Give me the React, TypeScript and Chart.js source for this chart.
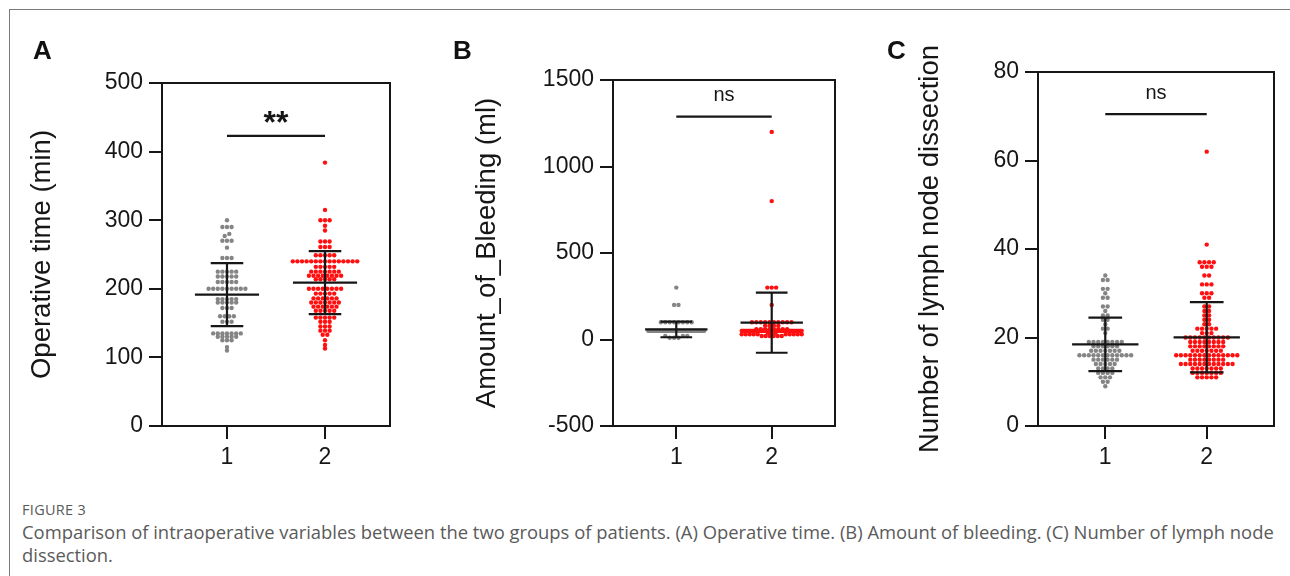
import React, { useEffect, useRef } from "react";
import { Chart, registerables } from "chart.js";

Chart.register(...registerables);

// ---------------- DATA ----------------
const groupLabels = ["1", "2"];

// Panel A – Operative time (min)
const operativeTimeGroup1 = [
  300, 290, 290, 290, 280, 277, 270, 270, 270, 260, 245, 245, 245,
  225, 225, 225, 225, 225, 218, 218, 218, 218, 218, 210, 210, 210, 210, 210,
  200, 200, 200, 200, 200, 200, 200, 200, 200,
  185, 185, 185, 185, 185, 180, 180, 180, 180, 180, 172, 172, 172,
  160, 160, 160, 160, 152, 152, 152,
  135, 135, 135, 135, 135, 135, 135, 130, 130, 130, 130, 130, 125, 125, 125,
  115, 110,
];
const operativeTimeGroup2 = [
  384, 315, 300, 300, 300, 292, 285, 269, 269, 269, 261, 261, 261,
  249, 249, 249, 249, 249,
  240, 240, 240, 240, 240, 240, 240, 240, 240, 240, 240, 240, 240, 240, 240,
  232, 232, 232, 232, 232, 225, 225, 225, 225, 225, 225, 225,
  219, 219, 219, 219, 219, 219, 219, 219, 214, 214, 214, 214, 214,
  200, 200, 200, 200, 200, 200, 200, 200, 193, 193, 193, 193, 193,
  186, 186, 186, 186, 186, 186, 180, 180, 180, 180, 180, 180, 180,
  174, 174, 174, 174, 174, 174, 168, 168, 168, 168, 168,
  158, 158, 158, 158, 158, 152, 152, 152, 145, 145, 145, 139, 139, 139,
  133, 133, 125, 118, 113,
];
const operativeTimeMean = [191.5, 209];
const operativeTimeSD = [46, 46];
const operativeTimeTicks = [0, 100, 200, 300, 400, 500];
const operativeTimeSig = 423;

// Panel B – Amount of bleeding (ml)
const bleedingGroup1 = [
  300, 200, 200, 100, 100, 100, 100, 100, 100, 100, 100,
  50, 50, 50, 50, 50, 50, 50, 50, 50, 50, 50, 50, 50, 50, 50, 50, 50, 50, 50, 50, 50, 50, 50, 50, 50,
  50, 50, 50, 50, 50, 50, 50, 50, 50, 50, 50, 50, 50, 50, 50, 50, 50, 50, 50, 50, 50, 50, 50, 50, 50,
  50, 50, 50, 50, 50, 50, 50,
  20, 20, 20, 10, 10, 10,
];
const bleedingGroup2 = [
  1200, 800, 300, 300, 300, 200,
  100, 100, 100, 100, 100, 100, 100, 100, 100, 100, 80, 80, 80, 80,
  60, 60, 60, 60, 60, 60, 60, 60,
  50, 50, 50, 50, 50, 50, 50, 50, 50, 50, 50, 50, 50, 50, 50, 50, 50, 50, 50, 50,
  50, 50, 50, 50, 50, 50, 50, 50, 50, 50, 50, 50, 50, 50, 50, 50, 50, 50, 50, 50,
  50, 50, 50, 50, 50, 50, 50, 50, 50, 50, 50, 50, 50, 50, 50, 50, 50, 50, 50, 50,
  40, 40, 40, 40, 40, 40, 40, 40, 40, 40, 30, 30, 30, 30, 30, 30, 30, 30, 30, 30,
  20, 20, 20, 20, 20, 20,
];
const bleedingMean = [58, 97.5];
const bleedingSD = [45, 174];
const bleedingTicks = [-500, 0, 500, 1000, 1500];
const bleedingSig = 1288;

// Panel C – Number of lymph node dissection
const lymphNodeGroup1 = [
  34, 33, 33, 31, 31, 30, 29, 29, 27, 27, 26, 25, 25, 24, 24, 23, 22, 22, 21,
  19, 19, 19, 19, 19, 19, 19, 19, 18, 18, 18, 18, 18, 18,
  17, 17, 17, 17, 17, 17, 17, 16, 16, 16, 16, 16, 16, 16, 16, 16, 16, 16, 16,
  15, 15, 15, 15, 15, 15, 14, 14, 14, 14, 14, 13, 13, 13, 13,
  12, 12, 12, 12, 11, 11, 11, 10, 10, 9,
];
const lymphNodeGroup2 = [
  62, 41, 37, 37, 37, 37, 36, 36, 36, 34, 34, 32, 32, 32, 30, 30, 30, 29, 29,
  27, 27, 26, 26, 25, 25, 24, 24, 23, 23, 22, 22, 22, 22, 22, 21, 21, 21,
  20, 20, 20, 20, 20, 20, 20, 20, 20, 20, 19, 19, 19, 19, 19, 19, 19, 19,
  18, 18, 18, 18, 18, 18, 18, 18, 17, 17, 17, 17, 17, 17, 17,
  16, 16, 16, 16, 16, 16, 16, 16, 16, 16, 16, 16, 16, 16,
  15, 15, 15, 15, 15, 15, 15, 15, 14, 14, 14, 14, 14, 14, 14, 14, 14, 14, 14, 14,
  13, 13, 13, 13, 13, 13, 13, 12, 12, 12, 12, 12, 12, 12, 11, 11, 11, 11, 11,
];
const lymphNodeMean = [18.45, 20.05];
const lymphNodeSD = [6.05, 7.95];
const lymphNodeTicks = [0, 20, 40, 60, 80];
const lymphNodeSig = 70.5;

// ---------------- STYLE / LAYOUT ----------------
const CHART_FONT = '"Liberation Sans", Arial, Helvetica, sans-serif';
const INK = "#161616";
const GROUP_COLORS = ["#858585", "#ff1010"];
const CANVAS_TOP = 20;
const CANVAS_H = 460;
const X_MIN = 0.337;
const X_MAX = 2.663;
const MEAN_HALF = 0.327;
const CAP_HALF = 0.166;

type Panel = {
  letter: string;
  letterPos: [number, number];
  title: string;
  g1: number[];
  g2: number[];
  mean: number[];
  sd: number[];
  ticks: number[];
  sig: number;
  sigLabel: string;
  sigFont: string;
  sigOffset: number;
  left: number;
  width: number;
  padTop: number;
  padRight: number;
  yWidth: number;
  titlePad: number;
  spacing: number;
  rowGap: number;
  maxRow: number[];
};

const PANELS: Panel[] = [
  {
    letter: "A", letterPos: [33, 37], title: "Operative time (min)",
    g1: operativeTimeGroup1, g2: operativeTimeGroup2, mean: operativeTimeMean, sd: operativeTimeSD,
    ticks: operativeTimeTicks, sig: operativeTimeSig, sigLabel: "**",
    sigFont: `bold 32px ${CHART_FONT}`, sigOffset: 3,
    left: 10, width: 400, padTop: 63, padRight: 20, yWidth: 152, titlePad: 16,
    spacing: 4.6, rowGap: 3, maxRow: [70, 70],
  },
  {
    letter: "B", letterPos: [453, 37], title: "Amount_of_Bleeding (ml)",
    g1: bleedingGroup1, g2: bleedingGroup2, mean: bleedingMean, sd: bleedingSD,
    ticks: bleedingTicks, sig: bleedingSig, sigLabel: "ns",
    sigFont: `20px ${CHART_FONT}`, sigOffset: 16,
    left: 430, width: 420, padTop: 60, padRight: 15, yWidth: 183, titlePad: 40.5,
    spacing: 4.4, rowGap: 3, maxRow: [56, 60],
  },
  {
    letter: "C", letterPos: [887, 37], title: "Number of lymph node dissection",
    g1: lymphNodeGroup1, g2: lymphNodeGroup2, mean: lymphNodeMean, sd: lymphNodeSD,
    ticks: lymphNodeTicks, sig: lymphNodeSig, sigLabel: "ns",
    sigFont: `20px ${CHART_FONT}`, sigOffset: 15.5,
    left: 860, width: 430, padTop: 52, padRight: 16, yWidth: 178, titlePad: 53.5,
    spacing: 4.7, rowGap: 3, maxRow: [70, 70],
  },
];

// Beeswarm-like row layout (pixel offsets) computed from values
function swarmOffsets(values: number[], toPx: (v: number) => number, spacing: number, rowGap: number, maxRow: number) {
  const order = values.map((_, i) => i).sort((a, b) => values[a] - values[b]);
  const offsets = new Array(values.length).fill(0);
  let row: number[] = [];
  let startPx = 0;
  const flush = () => {
    const n = row.length;
    if (!n) return;
    const s = n > 1 ? Math.min(spacing, maxRow / (n - 1)) : 0;
    const slots: number[] = [];
    for (let k = 0; k < n; k++) slots.push((k - (n - 1) / 2) * s);
    slots.sort((a, b) => Math.abs(a) - Math.abs(b) || a - b);
    row.forEach((id, k) => (offsets[id] = slots[k]));
    row = [];
  };
  for (const id of order) {
    const p = toPx(values[id]);
    if (row.length && Math.abs(startPx - p) >= rowGap) flush();
    if (!row.length) startPx = p;
    row.push(id);
  }
  flush();
  return offsets;
}

const annotatePlugin = {
  id: "annot",
  afterDatasetsDraw(chart: any, _args: any, opts: any) {
    const { ctx, chartArea: a } = chart;
    const xs = chart.scales.x;
    const ys = chart.scales.y;
    ctx.save();
    ctx.strokeStyle = INK;
    ctx.lineWidth = 2;
    ctx.strokeRect(a.left, a.top, a.right - a.left, a.bottom - a.top);
    ctx.font = opts.font;
    ctx.fillStyle = INK;
    ctx.textAlign = "center";
    ctx.textBaseline = "alphabetic";
    ctx.fillText(opts.label, xs.getPixelForValue(1.5), ys.getPixelForValue(opts.value) - opts.offset);
    ctx.restore();
  },
};

function lineDs(points: { x: number; y: number }[]) {
  return {
    type: "scatter" as const,
    data: points,
    showLine: true,
    borderColor: INK,
    borderWidth: 2.2,
    pointRadius: 0,
    order: 0,
  };
}

function buildConfig(p: Panel): any {
  const datasets: any[] = [];
  [p.g1, p.g2].forEach((vals, gi) => {
    datasets.push({
      type: "scatter",
      data: vals.map((v) => ({ x: gi + 1, y: v })),
      backgroundColor: GROUP_COLORS[gi],
      borderWidth: 0,
      pointRadius: 2.2,
      order: 1,
    });
  });
  p.mean.forEach((m, gi) => {
    const x = gi + 1;
    const s = p.sd[gi];
    datasets.push(lineDs([{ x: x - MEAN_HALF, y: m }, { x: x + MEAN_HALF, y: m }]));
    datasets.push(lineDs([{ x, y: m - s }, { x, y: m + s }]));
    datasets.push(lineDs([{ x: x - CAP_HALF, y: m + s }, { x: x + CAP_HALF, y: m + s }]));
    datasets.push(lineDs([{ x: x - CAP_HALF, y: m - s }, { x: x + CAP_HALF, y: m - s }]));
  });
  datasets.push(lineDs([{ x: 1, y: p.sig }, { x: 2, y: p.sig }]));

  const gridStyle = { drawOnChartArea: false, drawTicks: true, tickLength: 13, color: INK, lineWidth: 2 };
  return {
    type: "scatter",
    data: { datasets },
    plugins: [annotatePlugin],
    options: {
      animation: false,
      responsive: false,
      maintainAspectRatio: false,
      events: [],
      layout: { padding: { left: 0, top: p.padTop, right: p.padRight, bottom: 0 } },
      plugins: {
        legend: { display: false },
        tooltip: { enabled: false },
        annot: { label: p.sigLabel, value: p.sig, font: p.sigFont, offset: p.sigOffset },
      },
      scales: {
        x: {
          type: "linear",
          position: "bottom",
          min: X_MIN,
          max: X_MAX,
          afterBuildTicks: (s: any) => { s.ticks = groupLabels.map((_, i) => ({ value: i + 1 })); },
          afterFit: (s: any) => { s.height = 54; },
          grid: gridStyle,
          border: { display: false },
          ticks: {
            font: { family: CHART_FONT, size: 23 },
            color: INK,
            padding: 5,
            maxRotation: 0,
            callback: (v: number) => groupLabels[Math.round(v) - 1] ?? "",
          },
        },
        y: {
          type: "linear",
          position: "left",
          min: p.ticks[0],
          max: p.ticks[p.ticks.length - 1],
          afterBuildTicks: (s: any) => { s.ticks = p.ticks.map((v) => ({ value: v })); },
          afterFit: (s: any) => { s.width = p.yWidth; },
          grid: gridStyle,
          border: { display: false },
          ticks: {
            font: { family: CHART_FONT, size: 23 },
            color: INK,
            padding: 6,
            callback: (v: number) => String(v),
          },
          title: {
            display: true,
            text: p.title,
            color: INK,
            font: { family: CHART_FONT, size: 27.5 },
            padding: { top: p.titlePad, bottom: 0 },
          },
        },
      },
    },
  };
}

function PanelChart({ p }: { p: Panel }) {
  const ref = useRef<HTMLCanvasElement>(null);
  useEffect(() => {
    const canvas = ref.current;
    if (!canvas) return;
    const chart = new Chart(canvas, buildConfig(p));
    const xs: any = chart.scales.x;
    const ys: any = chart.scales.y;
    const pxPerX = xs.getPixelForValue(2) - xs.getPixelForValue(1);
    [p.g1, p.g2].forEach((vals, gi) => {
      const offs = swarmOffsets(vals, (v) => ys.getPixelForValue(v), p.spacing, p.rowGap, p.maxRow[gi]);
      (chart.data.datasets[gi] as any).data = vals.map((v, i) => ({ x: gi + 1 + offs[i] / pxPerX, y: v }));
    });
    chart.update();
    return () => chart.destroy();
  }, [p]);
  return (
    <canvas
      ref={ref}
      width={p.width}
      height={CANVAS_H}
      style={{ position: "absolute", left: p.left, top: CANVAS_TOP, width: p.width, height: CANVAS_H }}
    />
  );
}

export default function App() {
  return (
    <div
      style={{
        position: "absolute",
        left: 0,
        top: 0,
        width: 1290,
        height: 576,
        background: "#ffffff",
        overflow: "hidden",
      }}
    >
      <div style={{ position: "absolute", left: 9, top: 9, right: 0, height: 1, background: "#7a7a7a" }} />
      <div style={{ position: "absolute", left: 9, top: 9, bottom: 0, width: 1, background: "#7a7a7a" }} />
      {PANELS.map((p) => (
        <PanelChart key={p.letter} p={p} />
      ))}
      {PANELS.map((p) => (
        <div
          key={"L" + p.letter}
          style={{
            position: "absolute",
            left: p.letterPos[0],
            top: p.letterPos[1],
            font: `bold 26px ${CHART_FONT}`,
            lineHeight: "26px",
            color: "#111",
          }}
        >
          {p.letter}
        </div>
      ))}
      <div
        style={{
          position: "absolute",
          left: 22,
          top: 499,
          width: 1262,
          fontFamily: '"Open Sans", "Noto Sans", sans-serif',
          color: "#5a5a5a",
        }}
      >
        <div style={{ fontSize: 14.5, lineHeight: "21px", letterSpacing: 0.3 }}>FIGURE 3</div>
        <div style={{ fontSize: 18.4, lineHeight: "23px", whiteSpace: "nowrap" }}>
          Comparison of intraoperative variables between the two groups of patients. (A) Operative time. (B) Amount of
          bleeding. (C) Number of lymph node
        </div>
        <div style={{ fontSize: 18.4, lineHeight: "23px", whiteSpace: "nowrap" }}>dissection.</div>
      </div>
    </div>
  );
}
